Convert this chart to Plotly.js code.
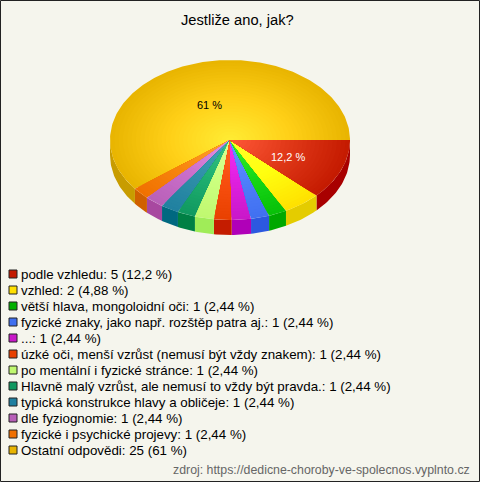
<!DOCTYPE html>
<html><head><meta charset="utf-8">
<script src="https://cdn.plot.ly/plotly-3.0.1.min.js"></script>
<style>html,body{margin:0;padding:0;background:#f5f5ed}#c{width:480px;height:482px}</style>
</head><body><div id="c"></div>
<script>
const titleText = 'Jestliže ano, jak?';
const sourceText = 'zdroj: https://dedicne-choroby-ve-spolecnos.vyplnto.cz';
const categories = ['podle vzhledu','vzhled','větší hlava, mongoloidní oči','fyzické znaky, jako např. rozštěp patra aj.','...','úzké oči, menší vzrůst (nemusí být vždy znakem)','po mentální i fyzické stránce','Hlavně malý vzrůst, ale nemusí to vždy být pravda.','typická konstrukce hlavy a obličeje','dle fyziognomie','fyzické i psychické projevy','Ostatní odpovědi'];
const counts = [5,2,1,1,1,1,1,1,1,1,1,25];
const percents = ['12,2','4,88','2,44','2,44','2,44','2,44','2,44','2,44','2,44','2,44','2,44','61'];
// slice sizes as they are actually drawn in the picture, in degrees
const drawnSweeps = [43.9,18.3,8.8,8.9,9.3,8.5,9.3,8.7,8.8,9.3,8.6,217.6];
const innerColors = ['#ff5838','#ffff28','#30f030','#6494ff','#f432f4','#ff6424','#dcff96','#34c484','#44a4b8','#e496e4','#ffa434','#ffec34'];
const midColors   = ['#e03818','#ffff10','#18d818','#5080fb','#e020e0','#f85010','#ccff80','#20b070','#3090a8','#cc70cc','#f88810','#ffd018'];
const outerColors = ['#c41a00','#ffe000','#08c008','#4070f0','#c818c8','#e84000','#c0f870','#109860','#2080a0','#b860b8','#f07000','#e8b400'];
const sideColors  = ['#a80000','#e4cc00','#00a800','#2c58e0','#b000b8','#c41c00','#a0ec58','#008044','#006880','#a848a0','#d06000','#c89c00'];
const swatchColors= ['#c41a00','#ffe000','#00b000','#4070f0','#c818c8','#e84000','#c0f870','#109860','#2080a0','#b860b8','#f07000','#e8b400'];

const cx=230, cy=140, rx=120, ry=80, depth=15, rings=28;
function hex(c){return [1,3,5].map(i=>parseInt(c.substr(i,2),16));}
function mix(a,b,t){const A=hex(a),B=hex(b);return 'rgb('+A.map((v,i)=>Math.round(v+(B[i]-v)*t)).join(',')+')';}
function ramp(i,t){return t<.5?mix(innerColors[i],midColors[i],t*2):mix(midColors[i],outerColors[i],(t-.5)*2);}
const traces=[];
function poly(xs,ys,color){
  traces.push({type:'scatter',mode:'lines',x:xs,y:ys,fill:'toself',fillcolor:color,line:{width:0,color:color},hoverinfo:'skip',showlegend:false});
}
function arc(a0,a1,r,dy){
  const n=Math.max(2,Math.ceil((a1-a0)/0.02)),xs=[],ys=[];
  for(let k=0;k<=n;k++){const a=a0+(a1-a0)*k/n;xs.push(cx+rx*r*Math.cos(a));ys.push(cy+ry*r*Math.sin(a)+dy);}
  return [xs,ys];
}
const starts=[],sweeps=drawnSweeps.map(d=>d*Math.PI/180);let acc=0;
sweeps.forEach(v=>{starts.push(acc);acc+=v;});
// sides (only the front half is visible)
sweeps.forEach((v,i)=>{
  const a0=starts[i],a1=Math.min(Math.PI,a0+v);
  if(a0>=Math.PI)return;
  const [tx,ty]=arc(a0,a1,1,0),[bx,by]=arc(a0,a1,1,depth);
  poly(tx.concat(bx.reverse()),ty.concat(by.reverse()),sideColors[i]);
});
// tops: nested sectors from rim to centre give a radial shading
for(let i=sweeps.length-1;i>=0;i--){
  const a0=starts[i],a1=a0+sweeps[i];
  for(let k=rings;k>=1;k--){
    const t=k/rings,[x,y]=arc(a0,a1,t,0);
    poly([cx].concat(x,[cx]),[cy].concat(y,[cy]),ramp(i,(k-.5)/rings));
  }
}
// legend swatches
const rowY=categories.map((_,i)=>274+16*i);
traces.push({type:'scatter',mode:'markers',x:categories.map(()=>13),y:rowY,hoverinfo:'skip',showlegend:false,
  marker:{symbol:'square',size:8,color:swatchColors,line:{width:1,color:'#222'}}});

const font='"Liberation Sans",Arial,sans-serif';
const ann=[];
ann.push({x:237.5,y:20,text:titleText,showarrow:false,xanchor:'center',yanchor:'middle',font:{family:font,size:14.7,color:'#000'}});
ann.push({x:209,y:105,text:percents[11]+' %',showarrow:false,xanchor:'center',yanchor:'middle',font:{family:font,size:11,color:'#000'}});
ann.push({x:288,y:157,text:percents[0]+' %',showarrow:false,xanchor:'center',yanchor:'middle',font:{family:font,size:11,color:'#fff'}});
categories.forEach((c,i)=>ann.push({x:20,y:rowY[i],text:c+': '+counts[i]+' ('+percents[i]+' %)',showarrow:false,xanchor:'left',yanchor:'middle',xshift:-1.5,font:{family:font,size:13.33,color:'#000'}}));
ann.push({x:472,y:470,text:sourceText,showarrow:false,xanchor:'right',yanchor:'middle',font:{family:font,size:12.33,color:'#666'}});

const ax={visible:false,fixedrange:true,showgrid:false,zeroline:false};
Plotly.newPlot('c',traces,{
  width:480,height:482,margin:{l:0,r:0,t:0,b:0},paper_bgcolor:'#f5f5ed',plot_bgcolor:'#f5f5ed',showlegend:false,
  xaxis:Object.assign({range:[0,480]},ax),yaxis:Object.assign({range:[482,0]},ax),
  annotations:ann,
  shapes:[{type:'rect',xref:'x',yref:'y',x0:0.5,y0:0.5,x1:479.5,y1:481.5,line:{color:'#222',width:1}}]
},{staticPlot:true,displayModeBar:false});
</script></body></html>
